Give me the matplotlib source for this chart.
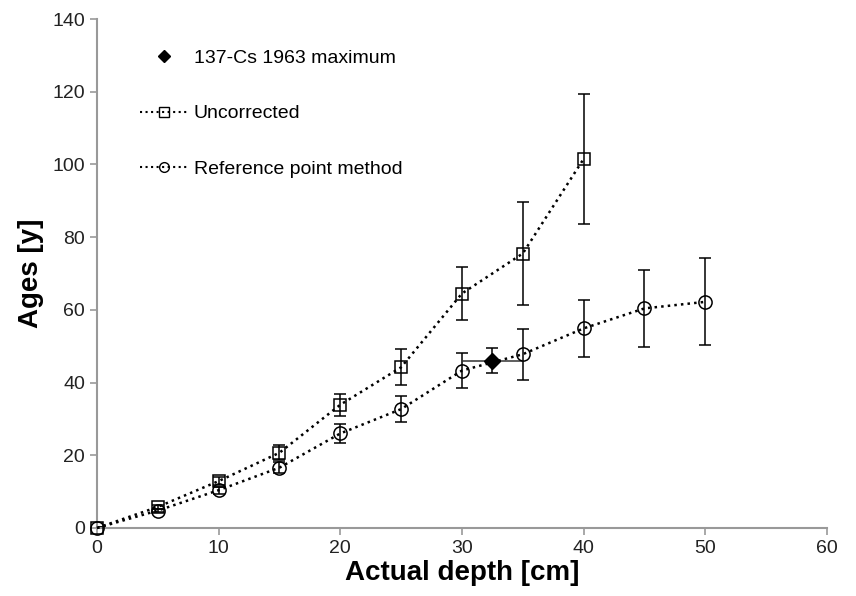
import matplotlib
matplotlib.use('Agg')
import matplotlib.pyplot as plt
from matplotlib.lines import Line2D

plt.rcParams['font.family'] = ['Liberation Sans', 'DejaVu Sans']

# 数据
depth_unc = [0, 5, 10, 15, 20, 25, 30, 35, 40]
age_unc = [0, 5.8, 12.9, 20.7, 33.9, 44.2, 64.5, 75.5, 101.5]
err_unc = [0.3, 0.6, 1.1, 2.0, 3.0, 4.9, 7.2, 14.3, 18.0]

depth_ref = [0, 5, 10, 15, 20, 25, 30, 35, 40, 45, 50]
age_ref = [0, 4.8, 10.4, 16.6, 26.0, 32.7, 43.3, 47.8, 54.9, 60.4, 62.2]
err_ref = [0.3, 0.5, 1.0, 1.6, 2.7, 3.6, 4.8, 7.0, 7.9, 10.6, 12.0]

cs_depth = [32.5]
cs_age = [46.0]
cs_xerr = [2.5]
cs_yerr = [3.5]

labels = ['137-Cs 1963 maximum', 'Uncorrected', 'Reference point method']

fig = plt.figure(figsize=(8.56, 5.96), dpi=100)
ax = fig.add_axes([0.1133, 0.1141, 0.8527, 0.8540])

# 误差棒
ax.errorbar(depth_unc, age_unc, yerr=err_unc, fmt='none', ecolor='black',
            elinewidth=1.1, capsize=4, capthick=1.1, zorder=2)
ax.errorbar(depth_ref, age_ref, yerr=err_ref, fmt='none', ecolor='black',
            elinewidth=1.1, capsize=4, capthick=1.1, zorder=2)
ax.errorbar(cs_depth, cs_age, yerr=cs_yerr, fmt='none', ecolor='black',
            elinewidth=1.1, capsize=4, capthick=1.1, zorder=2)
ax.errorbar(cs_depth, cs_age, xerr=cs_xerr, fmt='none', ecolor='#333333',
            elinewidth=1.1, capsize=0, zorder=2)

# 曲线
ax.plot(depth_unc, age_unc, linestyle=':', color='black', linewidth=1.8,
        marker='s', markersize=8, markerfacecolor='none',
        markeredgecolor='black', markeredgewidth=1.1, zorder=3, clip_on=False)
ax.plot(depth_ref, age_ref, linestyle=':', color='black', linewidth=1.8,
        marker='o', markersize=9.5, markerfacecolor='none',
        markeredgecolor='black', markeredgewidth=1.1, zorder=3, clip_on=False)
ax.plot(cs_depth, cs_age, linestyle='none', marker='D', markersize=8,
        color='black', zorder=4)

ax.set_xlim(0, 60)
ax.set_ylim(0, 140)
ax.set_xticks(range(0, 61, 10))
ax.set_yticks(range(0, 141, 20))

for side in ['top', 'right']:
    ax.spines[side].set_visible(False)
for side in ['left', 'bottom']:
    ax.spines[side].set_color('#999999')
    ax.spines[side].set_linewidth(1.5)
ax.tick_params(axis='both', direction='out', length=5, width=1.2,
               color='#999999', labelsize=14, labelcolor='#222222')
ax.tick_params(axis='x', pad=4)

ax.set_xlabel('Actual depth [cm]', fontsize=20, fontweight='bold', labelpad=2)
ax.set_ylabel('Ages [y]', fontsize=20, fontweight='bold', labelpad=6)

# 图例
handles = [
    Line2D([], [], linestyle='none', marker='D', markersize=6, color='black'),
    Line2D([], [], linestyle=':', color='black', linewidth=1.5, marker='s',
           markersize=7, markerfacecolor='none', markeredgewidth=1.0),
    Line2D([], [], linestyle=':', color='black', linewidth=1.5, marker='o',
           markersize=7, markerfacecolor='none', markeredgewidth=1.0),
]
ax.legend(handles, labels, loc='upper left', bbox_to_anchor=(0.035, 0.975),
          frameon=False, fontsize=14, handlelength=2.5, handletextpad=0.25,
          labelspacing=1.95)

fig.savefig('out.png', dpi=100)
